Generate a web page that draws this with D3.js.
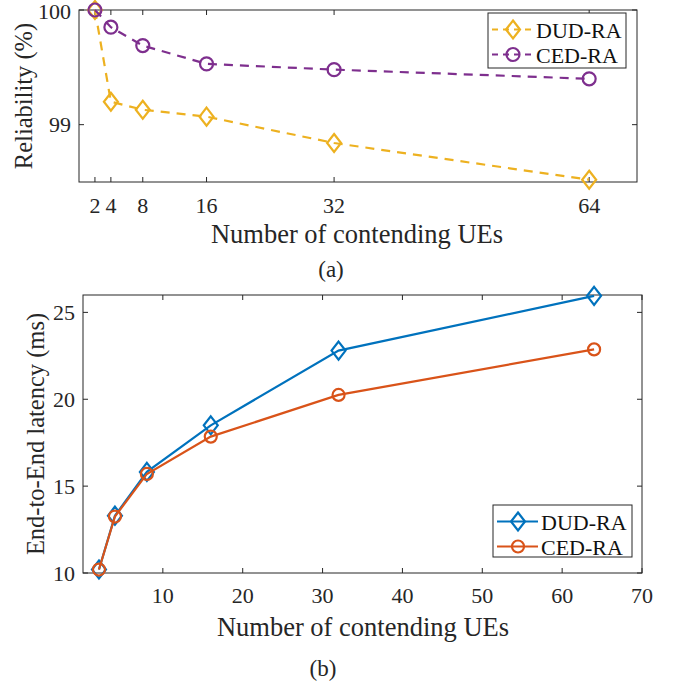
<!DOCTYPE html>
<html>
<head>
<meta charset="utf-8">
<script src="https://cdn.jsdelivr.net/npm/d3@7"></script>
<style>
  body { margin: 0; background: #fff; }
</style>
</head>
<body>
<svg id="fig" width="676" height="688"></svg>
<script>
// ---- data ----
var ues = [2, 4, 8, 16, 32, 64];
var seriesNames = ["DUD-RA", "CED-RA"];

// (a) reliability (%)
var relDUD = [100, 99.2, 99.13, 99.07, 98.84, 98.52];
var relCED = [100, 99.85, 99.69, 99.53, 99.48, 99.40];
var relTicksX = [2, 4, 8, 16, 32, 64];
var relTicksY = [99, 100];

// (b) end-to-end latency (ms)
var latDUD = [10.2, 13.3, 15.82, 18.5, 22.8, 25.95];
var latCED = [10.2, 13.25, 15.7, 17.85, 20.25, 22.87];
var latTicksX = [10, 20, 30, 40, 50, 60, 70];
var latTicksY = [10, 15, 20, 25];

var svg = d3.select("#fig");
var axisColor = "#262626";
var fontFam = "'Liberation Serif', 'Times New Roman'";

function label(g, x, y, str, size, anchor, color) {
  return g.append("text").attr("x", x).attr("y", y)
    .attr("text-anchor", anchor || "start")
    .attr("font-family", fontFam)
    .style("font-family", fontFam).style("font-size", size + "px")
    .style("fill", color || axisColor)
    .text(str);
}

function drawPanel(opt) {
  var g = svg.append("g");
  var x = d3.scaleLinear().domain(opt.xDomain).range([opt.left, opt.right]);
  var y = d3.scaleLinear().domain(opt.yDomain).range([opt.bottom, opt.top]);
  var tl = 5;

  // box
  g.append("rect")
    .attr("x", opt.left).attr("y", opt.top)
    .attr("width", opt.right - opt.left).attr("height", opt.bottom - opt.top)
    .attr("fill", "none").attr("stroke", axisColor).attr("stroke-width", 1);

  // ticks, inward on all four sides
  opt.xTicks.forEach(function(t) {
    g.append("line").attr("x1", x(t)).attr("x2", x(t)).attr("y1", opt.bottom).attr("y2", opt.bottom - tl).attr("stroke", axisColor);
    g.append("line").attr("x1", x(t)).attr("x2", x(t)).attr("y1", opt.top).attr("y2", opt.top + tl).attr("stroke", axisColor);
    label(g, x(t), opt.bottom + opt.xLabelOff, t, 22, "middle");
  });
  opt.yTicks.forEach(function(t) {
    g.append("line").attr("x1", opt.left).attr("x2", opt.left + tl).attr("y1", y(t)).attr("y2", y(t)).attr("stroke", axisColor);
    g.append("line").attr("x1", opt.right).attr("x2", opt.right - tl).attr("y1", y(t)).attr("y2", y(t)).attr("stroke", axisColor);
    label(g, opt.left - 8, Math.max(y(t) + 7.5, 19), t, 22, "end");
  });

  // titles
  label(g, opt.xTitleX, opt.xTitleY, "Number of contending UEs", 26.5, "middle");
  label(g, 0, 0, opt.yTitle, 24.5, "middle")
    .attr("transform", "translate(" + opt.yTitleX + "," + ((opt.top + opt.bottom) / 2) + ") rotate(-90)");
  label(g, opt.capX, opt.capY, opt.caption, 23, "middle");

  var line = d3.line().x(function(d) { return x(d[0]); }).y(function(d) { return y(d[1]); });

  opt.series.forEach(function(s) {
    var pts = ues.map(function(u, i) { return [u, s.values[i]]; });
    g.append("path").attr("d", line(pts)).attr("fill", "none")
      .attr("stroke", s.color).attr("stroke-width", 2.2)
      .attr("stroke-dasharray", opt.dash || null);
    pts.forEach(function(p) {
      drawMarker(g, s.marker, x(p[0]), y(p[1]), s.color, opt.msize);
    });
  });

  // legend
  var L = opt.legend;
  g.append("rect").attr("x", L.x).attr("y", L.y).attr("width", L.w).attr("height", L.h)
    .attr("fill", "#fff").attr("stroke", axisColor).attr("stroke-width", 1);
  opt.series.forEach(function(s, i) {
    var cy = L.y + L.row0 + i * 25;
    g.append("line").attr("x1", L.x + 4).attr("x2", L.x + 45).attr("y1", cy).attr("y2", cy)
      .attr("stroke", s.color).attr("stroke-width", 2.2).attr("stroke-dasharray", opt.dash ? "6,5" : null);
    drawMarker(g, s.marker, L.x + 25, cy, s.color, opt.msize);
    label(g, L.x + 48, cy + 8, seriesNames[i], 22, "start", "#111");
  });
}

function drawMarker(g, type, cx, cy, color, m) {
  if (type === "diamond") {
    g.append("path")
      .attr("d", "M" + cx + "," + (cy - m.dh) + "L" + (cx + m.dw) + "," + cy + "L" + cx + "," + (cy + m.dh) + "L" + (cx - m.dw) + "," + cy + "Z")
      .attr("fill", "none").attr("stroke", color).attr("stroke-width", 2.2);
  } else {
    g.append("circle").attr("cx", cx).attr("cy", cy).attr("r", m.r)
      .attr("fill", "none").attr("stroke", color).attr("stroke-width", 2.2);
  }
}

// (a)
drawPanel({
  left: 79, right: 637, top: 10, bottom: 182,
  xDomain: [0, 70], yDomain: [98.5, 100],
  xTicks: relTicksX, yTicks: relTicksY,
  xLabelOff: 31, xTitleX: 357, xTitleY: 243, yTitleX: 32, capX: 331, capY: 277,
  yTitle: "Reliability (%)", caption: "(a)",
  dash: "9,7", msize: { dw: 7, dh: 9, r: 6.5 },
  series: [
    { values: relDUD, color: "#EDB120", marker: "diamond" },
    { values: relCED, color: "#7E2F8E", marker: "circle" }
  ],
  legend: { x: 488, y: 13, w: 138, h: 55, row0: 16.5 }
});

// (b)
drawPanel({
  left: 83, right: 642, top: 295, bottom: 573,
  xDomain: [0, 70], yDomain: [10, 26],
  xTicks: latTicksX, yTicks: latTicksY,
  xLabelOff: 30, xTitleX: 363, xTitleY: 636, yTitleX: 44, capX: 323, capY: 676,
  yTitle: "End-to-End latency (ms)", caption: "(b)",
  dash: null, msize: { dw: 7, dh: 9, r: 6 },
  series: [
    { values: latDUD, color: "#0072BD", marker: "diamond" },
    { values: latCED, color: "#D95319", marker: "circle" }
  ],
  legend: { x: 493, y: 505, w: 139, h: 52, row0: 16.5 }
});
</script>
</body>
</html>
